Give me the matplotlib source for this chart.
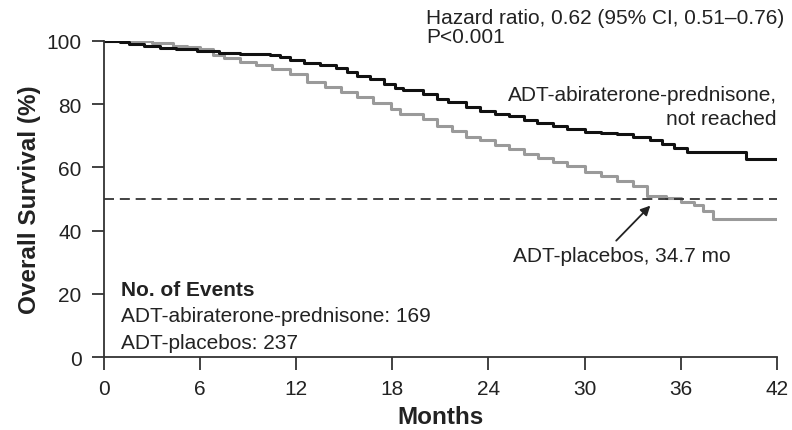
import numpy as np
import matplotlib.pyplot as plt

plt.rcParams['font.family'] = ['Liberation Sans', 'DejaVu Sans']

# Kaplan-Meier estimates (month, % surviving)
abi_months = [0, 1.0, 1.6, 2.5, 3.5, 4.5, 5.8, 7.2, 8.5, 10.4, 11.0, 11.6, 12.5, 13.5,
              14.5, 15.2, 15.8, 16.6, 17.5, 18.2, 18.7, 19.9, 20.8, 21.5, 22.6, 23.5,
              24.4, 25.3, 26.2, 27.0, 28.0, 28.9, 30.0, 31.0, 32.0, 33.0, 34.1, 34.8,
              35.6, 36.4, 40.1, 42.0]
abi_surv = [100, 99.6, 99.0, 98.3, 97.7, 97.3, 96.9, 96.2, 95.8, 95.4, 94.8, 93.8, 93.0,
            92.2, 91.4, 90.2, 89.0, 87.8, 86.3, 85.2, 84.3, 83.2, 81.6, 80.6, 79.1, 77.9,
            77.0, 76.3, 75.0, 74.0, 73.0, 72.2, 71.3, 70.9, 70.6, 69.6, 68.5, 67.3, 66.0,
            64.9, 62.6, 62.6]

pla_months = [0, 1.8, 3.0, 4.3, 5.2, 6.0, 6.8, 7.5, 8.5, 9.5, 10.5, 11.6, 12.7, 13.8,
              14.8, 15.8, 16.8, 17.9, 18.5, 19.9, 20.8, 21.7, 22.6, 23.5, 24.4, 25.3,
              26.2, 27.1, 28.0, 28.9, 30.0, 31.0, 32.0, 33.0, 33.9, 35.1, 36.0, 36.8,
              37.4, 38.0, 42.0]
pla_surv = [100, 99.8, 99.2, 98.5, 97.9, 97.3, 95.6, 94.6, 93.3, 92.2, 91.0, 89.6, 87.0,
            85.5, 83.8, 82.2, 80.3, 78.5, 76.9, 75.3, 73.2, 71.4, 69.6, 68.5, 67.2, 65.8,
            64.2, 62.8, 61.6, 60.5, 58.6, 57.4, 55.8, 54.2, 51.1, 50.3, 49.1, 48.0, 46.2,
            43.7, 43.7]

x_ticks = [0, 6, 12, 18, 24, 30, 36, 42]
y_ticks = [0, 20, 40, 60, 80, 100]
events_abi = 169
events_pla = 237
median_pla = 34.7

fig = plt.figure(figsize=(7.92, 4.31), dpi=100)
ax = fig.add_axes([0.131, 0.169, 0.850, 0.734])

txt = '#222222'
fs = 15
ax.plot(pla_months, pla_surv, drawstyle='steps-post', color='#9a9a9a', lw=2.2)
ax.plot(abi_months, abi_surv, drawstyle='steps-post', color='#111111', lw=2.2)
ax.plot([0, 42], [50, 50], ls=(0, (6, 3.5)), color='#222222', lw=1.2)

ax.set_xlim(0, 42)
ax.set_ylim(0, 100)
ax.set_xticks(x_ticks)
ax.set_yticks(y_ticks)
for s in ['top', 'right']:
    ax.spines[s].set_visible(False)
for s in ['left', 'bottom']:
    ax.spines[s].set_linewidth(1.3)
    ax.spines[s].set_color('#333333')
ax.tick_params(direction='out', length=9, width=1.3, color='#333333',
               labelsize=15, labelcolor=txt)
ax.tick_params(axis='y', pad=7)
ax.tick_params(axis='x', pad=7)

ax.set_xlabel('Months', fontsize=17.5, fontweight='bold', color=txt, labelpad=5)
ax.set_ylabel('Overall Survival (%)', fontsize=17.5, fontweight='bold', color=txt, labelpad=4)

ax.text(20.1, 107.3, 'Hazard ratio, 0.62 (95% CI, 0.51\u20130.76)', fontsize=fs,
        color=txt, va='center', ha='left', clip_on=False)
ax.text(20.1, 101.3, 'P<0.001', fontsize=fs, color=txt, va='center', ha='left')

ax.text(42, 79.3, 'ADT-abiraterone-prednisone,\nnot reached', fontsize=fs, color=txt,
        ha='right', va='center', multialignment='right', linespacing=1.32)

ax.annotate('ADT-placebos, %.1f mo' % median_pla, xy=(34.1, 47.9), xytext=(32.3, 32.0),
            fontsize=fs, color=txt, ha='center', va='center',
            arrowprops=dict(arrowstyle='-|>', color='#222222', lw=1.3,
                            shrinkA=3, shrinkB=0, mutation_scale=14,
                            relpos=(0.45, 1.0)))

ax.text(1.1, 21.3, 'No. of Events', fontsize=fs, fontweight='bold', color=txt, va='center')
ax.text(1.1, 13.1, 'ADT-abiraterone-prednisone: %d' % events_abi, fontsize=fs,
        color=txt, va='center')
ax.text(1.1, 4.6, 'ADT-placebos: %d' % events_pla, fontsize=fs, color=txt, va='center')

fig.savefig('out.png', dpi=100)
